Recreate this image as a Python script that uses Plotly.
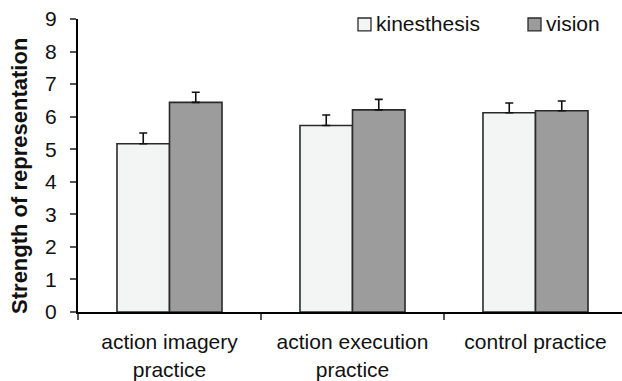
import plotly.graph_objects as go

# Practice conditions on the x axis
categories = ["action imagery<br>practice", "action execution<br>practice", "control practice"]

# Mean strength of representation per modality, with standard errors
series_names = ["kinesthesis", "vision"]
kinesthesis = [5.17, 5.73, 6.12]
kinesthesis_err = [0.33, 0.32, 0.30]
vision = [6.44, 6.21, 6.18]
vision_err = [0.31, 0.32, 0.30]

y_ticks = list(range(0, 10))
y_title = "Strength of representation"

fill_colors = ["#f3f5f4", "#9c9c9c"]
edge_color = "#2a2a2a"
font_family = "Liberation Sans, Arial, sans-serif"

W, H = 622, 381
M_L, M_R, M_T, M_B = 78, 0, 19, 67
plot_w = W - M_L - M_R
plot_h = H - M_T - M_B
cat_px = 183.0  # pixel width of one category slot

fig = go.Figure()
for name, vals, errs, color in zip(series_names, [kinesthesis, vision],
                                   [kinesthesis_err, vision_err], fill_colors):
    fig.add_trace(go.Bar(
        name=name,
        x=categories,
        y=vals,
        marker=dict(color=color, line=dict(color=edge_color, width=1.6)),
        error_y=dict(type="data", symmetric=False, array=errs,
                     arrayminus=[0] * len(errs),
                     color="#111111", thickness=1.6, width=4),
        showlegend=False,
    ))

fig.update_layout(
    width=W, height=H,
    margin=dict(l=M_L, r=M_R, t=M_T, b=M_B, pad=0),
    paper_bgcolor="white", plot_bgcolor="white",
    barmode="group", bargap=0.426, bargroupgap=0,
    font=dict(family=font_family, size=21, color="#111111"),
)

fig.update_xaxes(
    type="category",
    range=[-0.5, -0.5 + plot_w / cat_px],
    showline=True, linecolor="#000000", linewidth=2,
    ticks="outside", tickson="boundaries", ticklen=6, tickwidth=1.5,
    tickcolor="#555555",
    ticklabelstandoff=10,
    showgrid=False, zeroline=False,
    tickfont=dict(size=21, color="#111111"),
)

fig.update_yaxes(
    range=[0, 9],
    tickvals=y_ticks,
    ticktext=[str(v) for v in y_ticks],
    showline=True, linecolor="#000000", linewidth=2,
    ticks="outside", ticklen=6, tickwidth=1.5, tickcolor="#555555",
    ticklabelstandoff=9,
    showgrid=False, zeroline=False,
    tickfont=dict(size=21, color="#111111"),
)


def px_to_paper(px, py):
    return (px - M_L) / plot_w, (H - M_B - py) / plot_h


# Rotated y-axis title, placed a little below the plot's vertical centre
tx, ty = px_to_paper(20, 177)
fig.add_annotation(text="<b>" + y_title + "</b>", xref="paper", yref="paper",
                   x=tx, y=ty, xanchor="center", yanchor="middle",
                   textangle=-90, showarrow=False,
                   font=dict(size=22, color="#111111"))

# Legend: small framed squares followed by the series names
legend_x = [358, 528]
for name, color, lx in zip(series_names, fill_colors, legend_x):
    x0, y0 = px_to_paper(lx, 31)
    x1, y1 = px_to_paper(lx + 13, 18)
    fig.add_shape(type="rect", xref="paper", yref="paper",
                  x0=x0, y0=y0, x1=x1, y1=y1,
                  fillcolor=color, line=dict(color=edge_color, width=1.3))
    tx, ty = px_to_paper(lx + 16, 24)
    fig.add_annotation(text=name, xref="paper", yref="paper", x=tx, y=ty,
                       xanchor="left", yanchor="middle", showarrow=False,
                       font=dict(size=21, color="#111111"))

fig.write_html("out.html")
